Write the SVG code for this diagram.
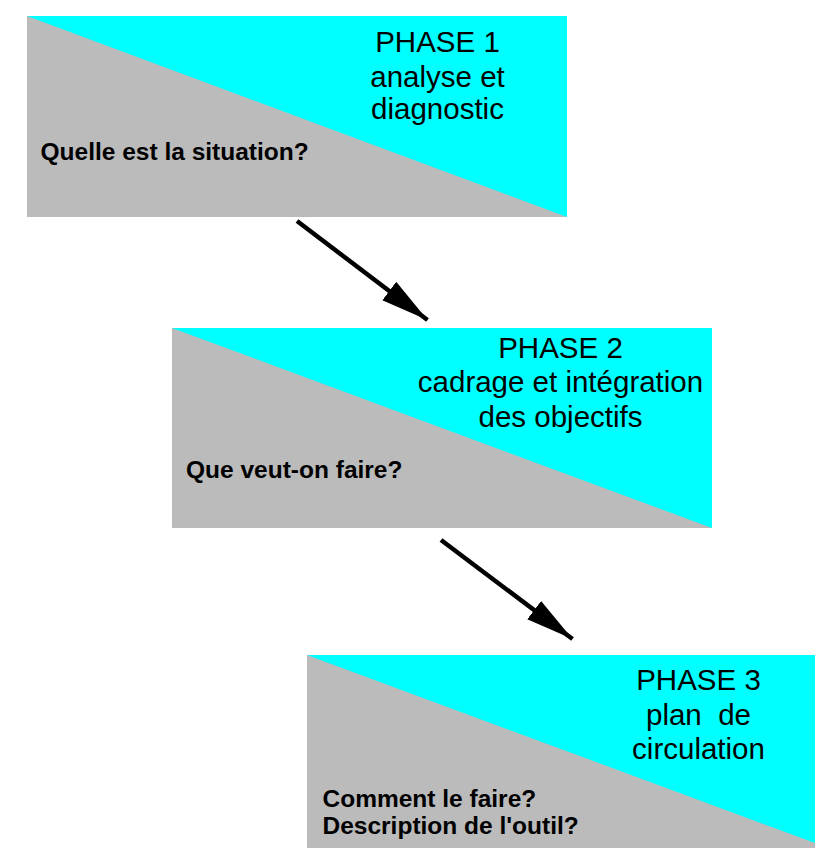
<svg xmlns="http://www.w3.org/2000/svg" width="815" height="848" viewBox="0 0 815 848">
<style>
.gray{fill:#bbbbbb}
.cyan{fill:#00ffff}
.ph{font-family:"Liberation Sans",Arial,sans-serif;font-size:29.5px;fill:#000;text-anchor:middle}
.q{font-family:"Liberation Sans",Arial,sans-serif;font-size:24.5px;font-weight:bold;fill:#000}
.ar{stroke:#000;stroke-width:4.5;fill:none}
</style>
<defs>
<marker id="ah" markerUnits="userSpaceOnUse" markerWidth="50" markerHeight="40" viewBox="0 0 50 40" refX="48" refY="20" orient="auto">
<polygon points="0,8.5 48,20 0,31.5" fill="#000"/>
</marker>
</defs>
<rect width="815" height="848" fill="#fff"/>
<g id="phase1">
<rect class="gray" x="27" y="16" width="540" height="201"/>
<polygon class="cyan" points="27,16 567,16 567,217"/>
<text class="ph" x="437.5" y="52">PHASE 1</text>
<text class="ph" x="437.5" y="86.5">analyse et</text>
<text class="ph" x="437.5" y="119">diagnostic</text>
<text class="q" x="40.5" y="159.5">Quelle est la situation?</text>
</g>
<g id="phase2">
<rect class="gray" x="172" y="328" width="540" height="200"/>
<polygon class="cyan" points="172,328 712,328 712,528"/>
<text class="ph" x="560.5" y="358">PHASE 2</text>
<text class="ph" x="560.5" y="392">cadrage et intégration</text>
<text class="ph" x="560.5" y="427">des objectifs</text>
<text class="q" x="186" y="478">Que veut-on faire?</text>
</g>
<g id="phase3">
<rect class="gray" x="307" y="655" width="508" height="193"/>
<polygon class="cyan" points="307,655 815,655 815,843"/>
<text class="ph" x="698.5" y="690">PHASE 3</text>
<text class="ph" x="698.5" y="724.5" xml:space="preserve">plan  de</text>
<text class="ph" x="698.5" y="759">circulation</text>
<text class="q" x="322.5" y="806.5">Comment le faire?</text>
<text class="q" x="322.5" y="833.5">Description de l'outil?</text>
</g>
<g id="connectors">
<line class="ar" x1="297" y1="221" x2="427.5" y2="320" marker-end="url(#ah)"/>
<line class="ar" x1="441" y1="540" x2="572.5" y2="639" marker-end="url(#ah)"/>
</g>
</svg>
